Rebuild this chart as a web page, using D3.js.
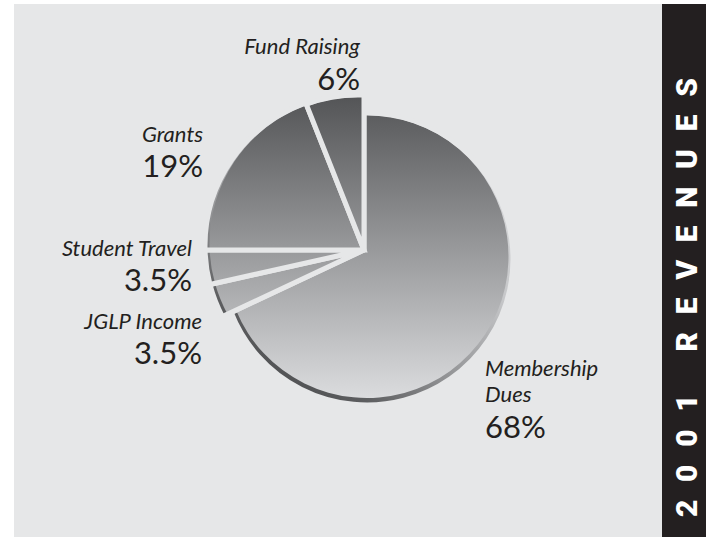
<!DOCTYPE html>
<html>
<head>
<meta charset="utf-8">
<script src="https://cdn.jsdelivr.net/npm/d3@7"></script>
<style>
  body { margin: 0; background: #fff; }
  svg { display: block; }
</style>
</head>
<body>
<div id="chart"></div>
<script>
// 2001 revenues, clockwise from 12 o'clock
const categories = ["Membership Dues", "JGLP Income", "Student Travel", "Grants", "Fund Raising"];
const values = [68, 3.5, 3.5, 19, 6];
const pctLabels = ["68%", "3.5%", "3.5%", "19%", "6%"];
const nameLines = [["Membership", "Dues"], ["JGLP Income"], ["Student Travel"], ["Grants"], ["Fund Raising"]];
const title = "2001 REVENUES";

// layout (pixels)
const W = 708, H = 541;
const apex = [364, 250];
// the pie is drawn a bit in perspective: every slice's outer edge follows a circle
// whose centre is not the apex. Membership sits lower, the others pull up-left.
const rimCircle = [
  {cx: 367, cy: 259, r: 146},
  {cx: 357, cy: 246, r: 152},
  {cx: 357, cy: 246, r: 152},
  {cx: 357, cy: 246, r: 152},
  {cx: 358, cy: 246, r: 151}
];
const rimWidth = 4.5, rimDrop = 2.5;
const labelPos = [
  {x: 485, y: [376, 402], py: 438, anchor: "start"},
  {x: 202, y: [329], py: 364, anchor: "end"},
  {x: 192, y: [256], py: 291, anchor: "end"},
  {x: 203, y: [142], py: 177, anchor: "end"},
  {x: 360, y: [54], py: 90, anchor: "end"}
];

const svg = d3.select("#chart").append("svg")
    .attr("width", W)
    .attr("height", H);

const defs = svg.append("defs");

// body of the pie: dark at top, light at bottom
const fillGrad = defs.append("linearGradient")
    .attr("id", "fillGrad")
    .attr("gradientUnits", "userSpaceOnUse")
    .attr("x1", 0).attr("y1", 95)
    .attr("x2", 0).attr("y2", 407);
fillGrad.append("stop").attr("offset", 0).attr("stop-color", "#535456");
fillGrad.append("stop").attr("offset", 1).attr("stop-color", "#dfe0e2");

// rim: light upper right, dark lower left
const rimGrad = defs.append("linearGradient")
    .attr("id", "rimGrad")
    .attr("gradientUnits", "userSpaceOnUse")
    .attr("x1", 515).attr("y1", 100)
    .attr("x2", 300).attr("y2", 410);
[[0, "#e2e3e5"], [0.45, "#c6c7c9"], [0.72, "#8f9092"], [0.88, "#5d5e60"], [1, "#4b4c4e"]]
  .forEach(s => rimGrad.append("stop").attr("offset", s[0]).attr("stop-color", s[1]));

// panel and side band
svg.append("rect")
    .attr("x", 14).attr("y", 4)
    .attr("width", 648).attr("height", 533)
    .attr("fill", "#e6e7e8");

svg.append("rect")
    .attr("x", 662).attr("y", 4)
    .attr("width", 44).attr("height", 533)
    .attr("fill", "#231f20");

svg.append("text")
    .attr("transform", "translate(697,517) rotate(-90)")
    .attr("font-family", "Roboto, 'Liberation Sans', sans-serif")
    .attr("font-weight", 900)
    .attr("font-size", "30px")
    .attr("fill", "#ffffff")
    .attr("textLength", 439)
    .attr("lengthAdjust", "spacing")
    .text(title);

const pie = d3.pie().sort(null).value(d => d)(values);

// where a ray from the apex at pie angle a meets a circle
function hit(a, c) {
  const dx = Math.sin(a), dy = -Math.cos(a);
  const ox = apex[0] - c.cx, oy = apex[1] - c.cy;
  const b = dx * ox + dy * oy;
  const t = -b + Math.sqrt(b * b - (ox * ox + oy * oy - c.r * c.r));
  return [apex[0] + t * dx, apex[1] + t * dy];
}

function slicePath(d, c) {
  const p0 = hit(d.startAngle, c), p1 = hit(d.endAngle, c);
  const a0 = Math.atan2(p0[0] - c.cx, -(p0[1] - c.cy));
  let a1 = Math.atan2(p1[0] - c.cx, -(p1[1] - c.cy));
  while (a1 < a0) a1 += 2 * Math.PI;
  const p = d3.path();
  p.moveTo(apex[0], apex[1]);
  p.lineTo(p0[0], p0[1]);
  p.arc(c.cx, c.cy, c.r, a0 - Math.PI / 2, a1 - Math.PI / 2, false);
  p.closePath();
  return p.toString();
}

const slices = svg.selectAll("g.slice")
    .data(pie)
    .join("g")
    .attr("class", "slice");

// rim layer, then the face on top, pulled up so the rim is thicker at the bottom
slices.append("path")
    .attr("d", (d, i) => slicePath(d, rimCircle[i]))
    .attr("fill", "url(#rimGrad)");

slices.append("path")
    .attr("d", (d, i) => {
      const c = rimCircle[i];
      return slicePath(d, {cx: c.cx, cy: c.cy - rimDrop, r: c.r - rimWidth});
    })
    .attr("fill", "url(#fillGrad)");

// gaps between slices
slices.append("path")
    .attr("d", (d, i) => slicePath(d, rimCircle[i]))
    .attr("fill", "none")
    .attr("stroke", "#e6e7e8")
    .attr("stroke-width", 5)
    .attr("stroke-linejoin", "miter");

// labels
const labels = svg.selectAll("g.label")
    .data(categories)
    .join("g")
    .attr("class", "label")
    .attr("fill", "#231f20")
    .attr("font-family", "Lato, 'Open Sans', sans-serif");

labels.each(function(d, i) {
  const g = d3.select(this);
  const lp = labelPos[i];
  nameLines[i].forEach((line, k) => {
    g.append("text")
        .attr("x", lp.x)
        .attr("y", lp.y[k])
        .attr("text-anchor", lp.anchor)
        .attr("font-style", "italic")
        .attr("font-size", "22px")
        .text(line);
  });
  g.append("text")
      .attr("x", lp.x)
      .attr("y", lp.py)
      .attr("text-anchor", lp.anchor)
      .attr("font-size", "31px")
      .text(pctLabels[i]);
});
</script>
</body>
</html>
